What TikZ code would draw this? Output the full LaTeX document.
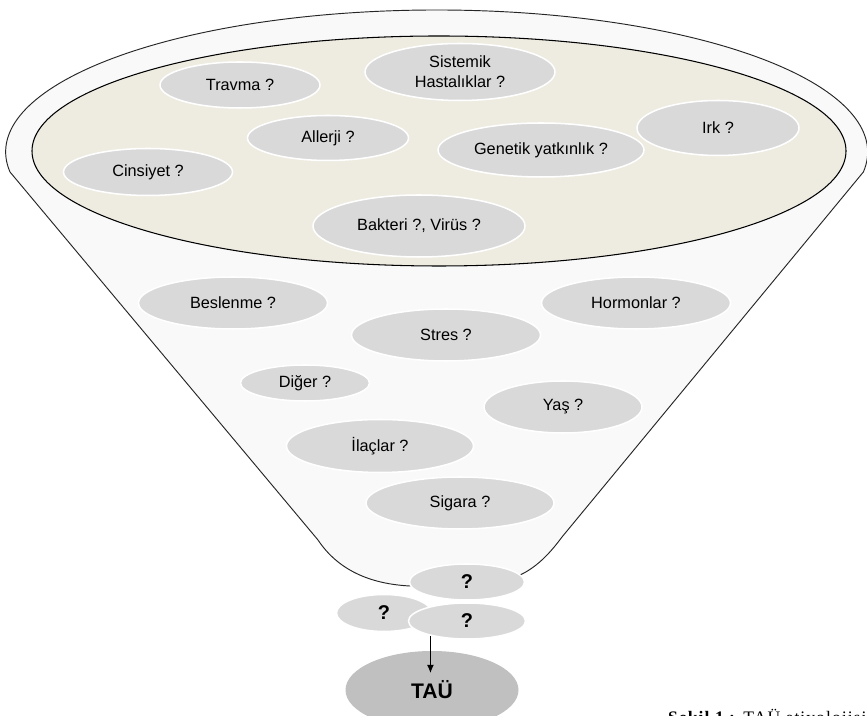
\documentclass[tikz,border=0pt]{standalone}
\usepackage{fontspec}
\setmainfont{Liberation Sans}
\newfontfamily\capfont[LetterSpace=6]{Liberation Serif}
\usetikzlibrary{arrows.meta,shapes.geometric}
\definecolor{rimfill}{RGB}{249,249,249}
\definecolor{bowlfill}{RGB}{238,236,225}
\definecolor{causefill}{RGB}{217,217,217}
\definecolor{taufill}{RGB}{192,192,192}

\begin{document}
\begin{tikzpicture}[
  cause/.style={
    ellipse,
    draw=white,
    line width=1.3pt,
    fill=causefill,
    inner sep=0pt,
    align=center,
    font=\fontsize{13.9}{17}\selectfont
  },
  oval/.style 2 args={minimum width=#1cm,minimum height=#2cm},
  unknown/.style={cause,font=\fontsize{17}{20}\selectfont\bfseries},
  rim/.style={draw=black!85,line width=.8pt,fill=rimfill},
  flow/.style={line width=.9pt,-{Latex[length=7pt,width=6pt]}}
]
  \fill[white] (0,0) rectangle (26.01,21.48);
  \useasboundingbox (0,0) rectangle (26.01,21.48);

  % The funnel body: rim arc on top, straight sides, a soft bend at the spout.
  \draw[rim]
    (0.30,16.32) arc[start angle=188.1,end angle=-8.1,x radius=12.93,y radius=4.26]
    -- (16.86,5.37)
    .. controls (16.44,4.80) and (16.05,4.44) .. (15.60,4.23)
    -- (12.30,3.90)
    .. controls (11.10,3.96) and (10.14,4.38) .. (9.54,5.28)
    -- cycle;
  \draw[draw=black,line width=.9pt,fill=bowlfill]
    (13.17,16.95) ellipse[x radius=12.21,y radius=3.45];

  % Causes inside the bowl.
  \node[cause,oval={4.80}{1.38}] (travma) at (7.20,18.93) {Travma ?};
  \node[cause,oval={5.70}{1.71}] (sistemik) at (13.80,19.32) {Sistemik\\Hastalıklar ?};
  \node[cause,oval={4.83}{1.35}] (allerji) at (9.84,17.34) {Allerji ?};
  \node[cause,oval={6.18}{1.62}] (genetik) at (16.23,16.98) {Genetik yatkınlık ?};
  \node[cause,oval={4.86}{1.65}] (irk) at (21.54,17.64) {Irk ?};
  \node[cause,oval={5.07}{1.41}] (cinsiyet) at (4.44,16.32) {Cinsiyet ?};
  \node[cause,oval={6.36}{1.86}] (bakteri) at (12.57,14.70) {Bakteri ?, Virüs ?};

  % Causes falling down the funnel.
  \node[cause,oval={5.67}{1.56}] (beslenme) at (6.99,12.39) {Beslenme ?};
  \node[cause,oval={5.67}{1.56}] (hormon) at (19.08,12.39) {Hormonlar ?};
  \node[cause,oval={5.67}{1.56}] (stres) at (13.38,11.43) {Stres ?};
  \node[cause,oval={3.87}{1.08}] (diger) at (9.15,9.99) {Diğer ?};
  \node[cause,oval={4.74}{1.56}] (yas) at (16.89,9.27) {Yaş ?};
  \node[cause,oval={5.61}{1.59}] (ilac) at (11.40,8.10) {İlaçlar ?};
  \node[cause,oval={5.64}{1.56}] (sigara) at (13.80,6.39) {Sigara ?};

  % Unknowns leaving the spout.
  \node[unknown,oval={3.45}{1.08}] (qtop) at (14.01,4.02) {?};
  \node[unknown,oval={2.85}{1.11}] (qleft) at (11.52,3.09) {?};
  \node[unknown,oval={3.51}{1.08}] (qright) at (14.01,2.85) {?};

  \node[ellipse,fill=taufill,inner sep=0pt,oval={5.19}{2.34},
    font=\fontsize{18}{21}\selectfont\bfseries] (tau) at (12.96,0.78) {TAÜ};
  \coordinate (tauin) at (12.93,1.29);
  \draw[flow] (qright.202) -- (qright.202 |- tauin);

  \node[anchor=base west,inner sep=0pt,font=\capfont\fontsize{15}{18}\selectfont] (caption)
    at (20.04,-0.22) {\textbf{Şekil 1 :} TAÜ etiyolojisi};
\end{tikzpicture}
\end{document}
